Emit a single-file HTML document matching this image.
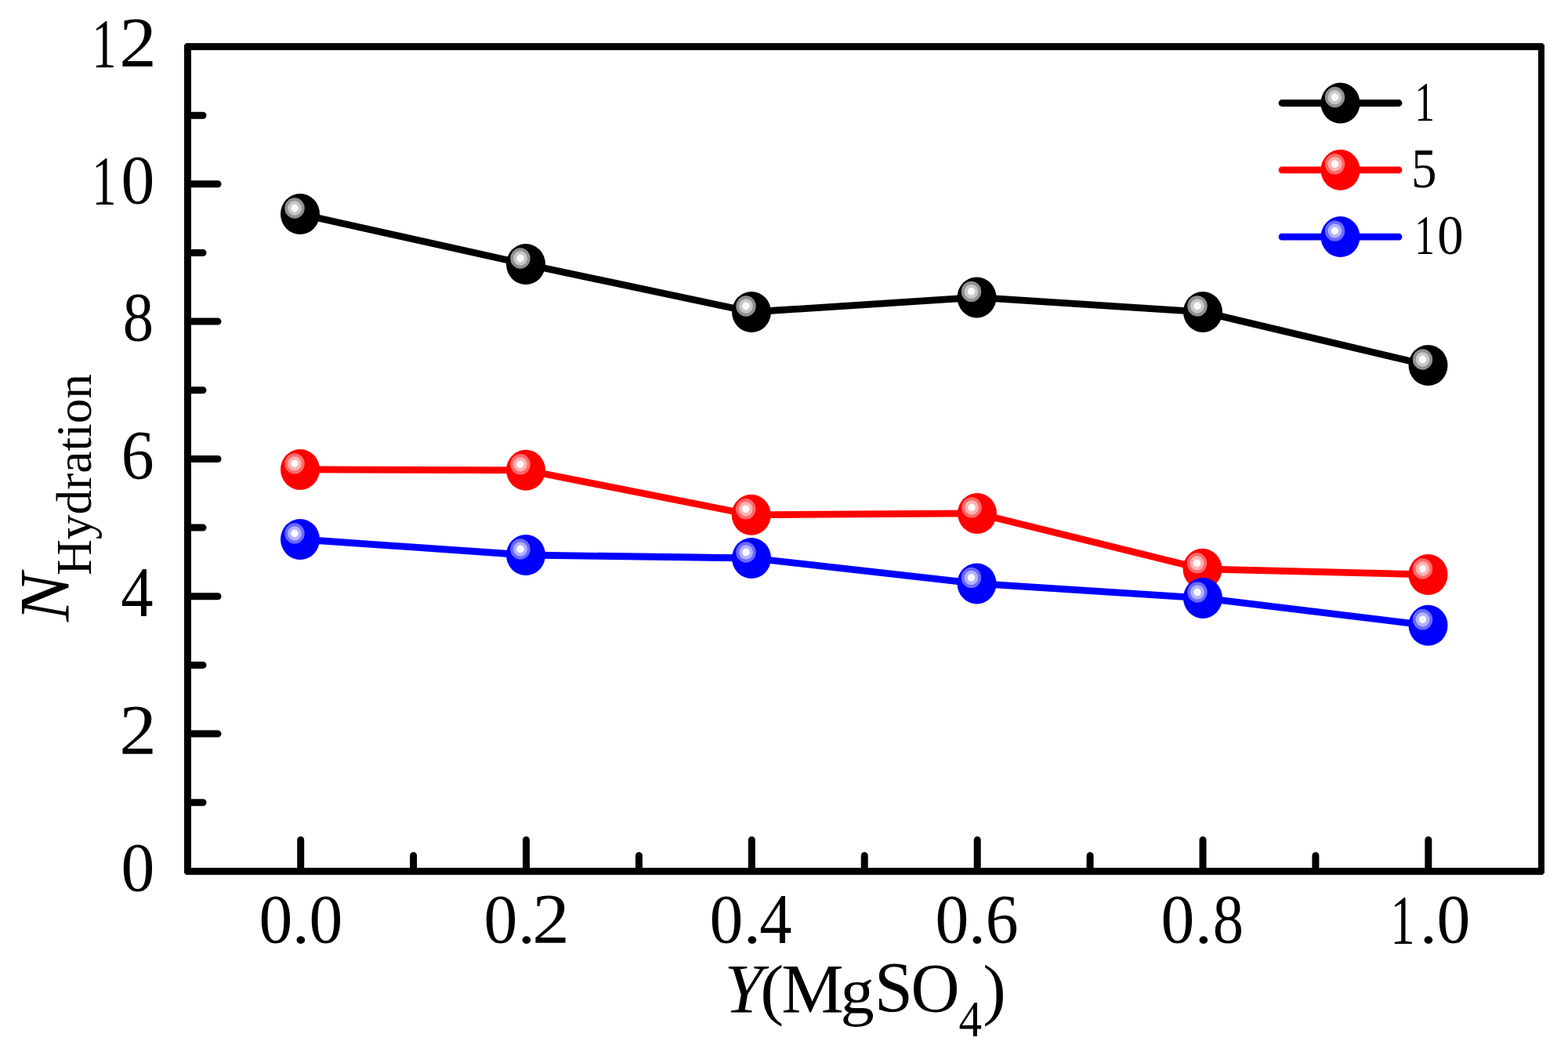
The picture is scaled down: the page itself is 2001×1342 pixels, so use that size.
<!DOCTYPE html>
<html><head><meta charset="utf-8"><title>N Hydration vs Y(MgSO4)</title>
<style>
html,body{margin:0;padding:0;background:#fff;overflow:hidden;width:2001px;height:1342px;}
svg{display:block;}
.t text{font-family:"Liberation Serif","Times New Roman",serif;font-size:100px;fill:#000;}
</style></head>
<body>
<svg width="2001" height="1342" viewBox="0 0 2001 1342">
<rect width="2001" height="1342" fill="#fff"/>
<path d="M237.5 55H1968.5L1971 57.5V1113.5L1968.5 1116H237.5L235 1113.5V57.5ZM244 64V1107H1963V64Z" fill="#000" fill-rule="evenodd"/>
<path d="M241 936.1H278M241 760.8H278M241 585.5H278M241 410.1H278M241 234.8H278M241 1023.7H259M241 848.4H259M241 673.1H259M241 497.8H259M241 322.5H259M241 147.2H259M383.7 1109V1071.5M671.5 1109V1071.5M959.3 1109V1071.5M1247.2 1109V1071.5M1535.0 1109V1071.5M1822.8 1109V1071.5M527.6 1109V1091.5M815.4 1109V1091.5M1103.2 1109V1091.5M1391.1 1109V1091.5M1678.9 1109V1091.5" stroke="#000" stroke-width="9" stroke-linecap="round" fill="none"/>
<path d="M383 273 L671 337 L959 398 L1246.5 379.4 L1535 397.9 L1822.5 466" stroke="#000" stroke-width="8.8" fill="none" stroke-linejoin="round"/>
<ellipse cx="383" cy="273" rx="25" ry="26" fill="#000"/><ellipse cx="376" cy="265.5" rx="12.7" ry="13.2" fill="#909090"/><ellipse cx="376" cy="265.5" rx="8.9" ry="9.2" fill="#c8c8c8"/><ellipse cx="376" cy="265.5" rx="4.7" ry="4.9" fill="#fafafa"/>
<ellipse cx="671" cy="337" rx="25" ry="26" fill="#000"/><ellipse cx="664" cy="329.5" rx="12.7" ry="13.2" fill="#909090"/><ellipse cx="664" cy="329.5" rx="8.9" ry="9.2" fill="#c8c8c8"/><ellipse cx="664" cy="329.5" rx="4.7" ry="4.9" fill="#fafafa"/>
<ellipse cx="959" cy="398" rx="25" ry="26" fill="#000"/><ellipse cx="952" cy="390.5" rx="12.7" ry="13.2" fill="#909090"/><ellipse cx="952" cy="390.5" rx="8.9" ry="9.2" fill="#c8c8c8"/><ellipse cx="952" cy="390.5" rx="4.7" ry="4.9" fill="#fafafa"/>
<ellipse cx="1246.5" cy="379.4" rx="25" ry="26" fill="#000"/><ellipse cx="1239.5" cy="371.9" rx="12.7" ry="13.2" fill="#909090"/><ellipse cx="1239.5" cy="371.9" rx="8.9" ry="9.2" fill="#c8c8c8"/><ellipse cx="1239.5" cy="371.9" rx="4.7" ry="4.9" fill="#fafafa"/>
<ellipse cx="1535" cy="397.9" rx="25" ry="26" fill="#000"/><ellipse cx="1528" cy="390.4" rx="12.7" ry="13.2" fill="#909090"/><ellipse cx="1528" cy="390.4" rx="8.9" ry="9.2" fill="#c8c8c8"/><ellipse cx="1528" cy="390.4" rx="4.7" ry="4.9" fill="#fafafa"/>
<ellipse cx="1822.5" cy="466" rx="25" ry="26" fill="#000"/><ellipse cx="1815.5" cy="458.5" rx="12.7" ry="13.2" fill="#909090"/><ellipse cx="1815.5" cy="458.5" rx="8.9" ry="9.2" fill="#c8c8c8"/><ellipse cx="1815.5" cy="458.5" rx="4.7" ry="4.9" fill="#fafafa"/>
<path d="M383 598.9 L671 599.8 L958.7 656.8 L1247 654.9 L1534.5 725.8 L1822.5 733" stroke="#f00" stroke-width="8.8" fill="none" stroke-linejoin="round"/>
<ellipse cx="383" cy="598.9" rx="25" ry="26" fill="#f00"/><ellipse cx="376" cy="591.4" rx="12.7" ry="13.2" fill="#ff6a6a"/><ellipse cx="376" cy="591.4" rx="8.9" ry="9.2" fill="#ffb2b2"/><ellipse cx="376" cy="591.4" rx="4.7" ry="4.9" fill="#fff8f8"/>
<ellipse cx="671" cy="599.8" rx="25" ry="26" fill="#f00"/><ellipse cx="664" cy="592.3" rx="12.7" ry="13.2" fill="#ff6a6a"/><ellipse cx="664" cy="592.3" rx="8.9" ry="9.2" fill="#ffb2b2"/><ellipse cx="664" cy="592.3" rx="4.7" ry="4.9" fill="#fff8f8"/>
<ellipse cx="958.7" cy="656.8" rx="25" ry="26" fill="#f00"/><ellipse cx="951.7" cy="649.3" rx="12.7" ry="13.2" fill="#ff6a6a"/><ellipse cx="951.7" cy="649.3" rx="8.9" ry="9.2" fill="#ffb2b2"/><ellipse cx="951.7" cy="649.3" rx="4.7" ry="4.9" fill="#fff8f8"/>
<ellipse cx="1247" cy="654.9" rx="25" ry="26" fill="#f00"/><ellipse cx="1240" cy="647.4" rx="12.7" ry="13.2" fill="#ff6a6a"/><ellipse cx="1240" cy="647.4" rx="8.9" ry="9.2" fill="#ffb2b2"/><ellipse cx="1240" cy="647.4" rx="4.7" ry="4.9" fill="#fff8f8"/>
<ellipse cx="1534.5" cy="725.8" rx="25" ry="26" fill="#f00"/><ellipse cx="1527.5" cy="718.3" rx="12.7" ry="13.2" fill="#ff6a6a"/><ellipse cx="1527.5" cy="718.3" rx="8.9" ry="9.2" fill="#ffb2b2"/><ellipse cx="1527.5" cy="718.3" rx="4.7" ry="4.9" fill="#fff8f8"/>
<ellipse cx="1822.5" cy="733" rx="25" ry="26" fill="#f00"/><ellipse cx="1815.5" cy="725.5" rx="12.7" ry="13.2" fill="#ff6a6a"/><ellipse cx="1815.5" cy="725.5" rx="8.9" ry="9.2" fill="#ffb2b2"/><ellipse cx="1815.5" cy="725.5" rx="4.7" ry="4.9" fill="#fff8f8"/>
<path d="M383 688 L671 708 L959 712 L1246.5 744.4 L1535 762.9 L1822.5 797.8" stroke="#00f" stroke-width="8.8" fill="none" stroke-linejoin="round"/>
<ellipse cx="383" cy="688" rx="25" ry="26" fill="#00f"/><ellipse cx="376" cy="680.5" rx="12.7" ry="13.2" fill="#6a6aff"/><ellipse cx="376" cy="680.5" rx="8.9" ry="9.2" fill="#b2b2ff"/><ellipse cx="376" cy="680.5" rx="4.7" ry="4.9" fill="#f8f8ff"/>
<ellipse cx="671" cy="708" rx="25" ry="26" fill="#00f"/><ellipse cx="664" cy="700.5" rx="12.7" ry="13.2" fill="#6a6aff"/><ellipse cx="664" cy="700.5" rx="8.9" ry="9.2" fill="#b2b2ff"/><ellipse cx="664" cy="700.5" rx="4.7" ry="4.9" fill="#f8f8ff"/>
<ellipse cx="959" cy="712" rx="25" ry="26" fill="#00f"/><ellipse cx="952" cy="704.5" rx="12.7" ry="13.2" fill="#6a6aff"/><ellipse cx="952" cy="704.5" rx="8.9" ry="9.2" fill="#b2b2ff"/><ellipse cx="952" cy="704.5" rx="4.7" ry="4.9" fill="#f8f8ff"/>
<ellipse cx="1246.5" cy="744.4" rx="25" ry="26" fill="#00f"/><ellipse cx="1239.5" cy="736.9" rx="12.7" ry="13.2" fill="#6a6aff"/><ellipse cx="1239.5" cy="736.9" rx="8.9" ry="9.2" fill="#b2b2ff"/><ellipse cx="1239.5" cy="736.9" rx="4.7" ry="4.9" fill="#f8f8ff"/>
<ellipse cx="1535" cy="762.9" rx="25" ry="26" fill="#00f"/><ellipse cx="1528" cy="755.4" rx="12.7" ry="13.2" fill="#6a6aff"/><ellipse cx="1528" cy="755.4" rx="8.9" ry="9.2" fill="#b2b2ff"/><ellipse cx="1528" cy="755.4" rx="4.7" ry="4.9" fill="#f8f8ff"/>
<ellipse cx="1822.5" cy="797.8" rx="25" ry="26" fill="#00f"/><ellipse cx="1815.5" cy="790.3" rx="12.7" ry="13.2" fill="#6a6aff"/><ellipse cx="1815.5" cy="790.3" rx="8.9" ry="9.2" fill="#b2b2ff"/><ellipse cx="1815.5" cy="790.3" rx="4.7" ry="4.9" fill="#f8f8ff"/>
<path d="M1636 131.5H1785" stroke="#000" stroke-width="8.8" stroke-linecap="round"/>
<ellipse cx="1710.5" cy="131.5" rx="25" ry="26" fill="#000"/><ellipse cx="1703.5" cy="124.0" rx="12.7" ry="13.2" fill="#909090"/><ellipse cx="1703.5" cy="124.0" rx="8.9" ry="9.2" fill="#c8c8c8"/><ellipse cx="1703.5" cy="124.0" rx="4.7" ry="4.9" fill="#fafafa"/>
<path d="M1636 216.8H1785" stroke="#f00" stroke-width="8.8" stroke-linecap="round"/>
<ellipse cx="1710.5" cy="216.8" rx="25" ry="26" fill="#f00"/><ellipse cx="1703.5" cy="209.3" rx="12.7" ry="13.2" fill="#ff6a6a"/><ellipse cx="1703.5" cy="209.3" rx="8.9" ry="9.2" fill="#ffb2b2"/><ellipse cx="1703.5" cy="209.3" rx="4.7" ry="4.9" fill="#fff8f8"/>
<path d="M1636 302.1H1785" stroke="#00f" stroke-width="8.8" stroke-linecap="round"/>
<ellipse cx="1710.5" cy="302.1" rx="25" ry="26" fill="#00f"/><ellipse cx="1703.5" cy="294.6" rx="12.7" ry="13.2" fill="#6a6aff"/><ellipse cx="1703.5" cy="294.6" rx="8.9" ry="9.2" fill="#b2b2ff"/><ellipse cx="1703.5" cy="294.6" rx="4.7" ry="4.9" fill="#f8f8ff"/>
<g class="t"><text><tspan x="154.57" y="1136.21" font-size="89.55" textLength="42.86" lengthAdjust="spacingAndGlyphs">0</tspan></text>
<text><tspan x="152.20" y="962.00" font-size="90.77" textLength="47.50" lengthAdjust="spacingAndGlyphs">2</tspan></text>
<text><tspan x="154.35" y="786.00" font-size="90.77" textLength="41.30" lengthAdjust="spacingAndGlyphs">4</tspan></text>
<text><tspan x="154.65" y="610.21" font-size="89.55" textLength="41.86" lengthAdjust="spacingAndGlyphs">6</tspan></text>
<text><tspan x="156.86" y="434.21" font-size="89.55" textLength="39.29" lengthAdjust="spacingAndGlyphs">8</tspan></text>
<text><tspan x="117.34" y="260.00" font-size="89.39" textLength="31.43" lengthAdjust="spacingAndGlyphs">1</tspan><tspan x="154.57" y="259.21" font-size="89.55" textLength="42.86" lengthAdjust="spacingAndGlyphs">0</tspan></text>
<text><tspan x="117.34" y="85.00" font-size="89.39" textLength="31.43" lengthAdjust="spacingAndGlyphs">1</tspan><tspan x="152.20" y="85.00" font-size="90.77" textLength="47.50" lengthAdjust="spacingAndGlyphs">2</tspan></text>
<text><tspan x="330.57" y="1202.21" font-size="89.55" textLength="42.86" lengthAdjust="spacingAndGlyphs">0</tspan><tspan x="372.64" y="1203.17" font-size="83.33" textLength="22.73" lengthAdjust="spacingAndGlyphs">.</tspan><tspan x="394.57" y="1202.21" font-size="89.55" textLength="42.86" lengthAdjust="spacingAndGlyphs">0</tspan></text>
<text><tspan x="617.57" y="1202.21" font-size="89.55" textLength="42.86" lengthAdjust="spacingAndGlyphs">0</tspan><tspan x="660.64" y="1203.17" font-size="83.33" textLength="22.73" lengthAdjust="spacingAndGlyphs">.</tspan><tspan x="679.20" y="1203.00" font-size="90.77" textLength="47.50" lengthAdjust="spacingAndGlyphs">2</tspan></text>
<text><tspan x="905.57" y="1202.21" font-size="89.55" textLength="42.86" lengthAdjust="spacingAndGlyphs">0</tspan><tspan x="948.64" y="1203.17" font-size="83.33" textLength="22.73" lengthAdjust="spacingAndGlyphs">.</tspan><tspan x="969.35" y="1203.00" font-size="90.77" textLength="41.30" lengthAdjust="spacingAndGlyphs">4</tspan></text>
<text><tspan x="1193.57" y="1202.21" font-size="89.55" textLength="42.86" lengthAdjust="spacingAndGlyphs">0</tspan><tspan x="1235.64" y="1203.17" font-size="83.33" textLength="22.73" lengthAdjust="spacingAndGlyphs">.</tspan><tspan x="1257.65" y="1202.21" font-size="89.55" textLength="41.86" lengthAdjust="spacingAndGlyphs">6</tspan></text>
<text><tspan x="1481.57" y="1202.21" font-size="89.55" textLength="42.86" lengthAdjust="spacingAndGlyphs">0</tspan><tspan x="1524.64" y="1203.17" font-size="83.33" textLength="22.73" lengthAdjust="spacingAndGlyphs">.</tspan><tspan x="1547.86" y="1202.21" font-size="89.55" textLength="39.29" lengthAdjust="spacingAndGlyphs">8</tspan></text>
<text><tspan x="1774.34" y="1203.00" font-size="89.39" textLength="31.43" lengthAdjust="spacingAndGlyphs">1</tspan><tspan x="1811.64" y="1203.17" font-size="83.33" textLength="22.73" lengthAdjust="spacingAndGlyphs">.</tspan><tspan x="1833.57" y="1202.21" font-size="89.55" textLength="42.86" lengthAdjust="spacingAndGlyphs">0</tspan></text>
<text><tspan x="1805.37" y="154.00" font-size="71.21" textLength="25.71" lengthAdjust="spacingAndGlyphs">1</tspan></text>
<text><tspan x="1801.10" y="239.29" font-size="71.21" textLength="32.50" lengthAdjust="spacingAndGlyphs">5</tspan></text>
<text><tspan x="1805.37" y="324.00" font-size="71.21" textLength="25.71" lengthAdjust="spacingAndGlyphs">1</tspan><tspan x="1834.33" y="323.57" font-size="71.64" textLength="33.33" lengthAdjust="spacingAndGlyphs">0</tspan></text>
<text><tspan x="924.61" y="1291.10" font-size="89.54" textLength="49.00" lengthAdjust="spacingAndGlyphs" font-style="italic">Y</tspan><tspan x="970.20" y="1290.83" font-size="87.00" textLength="29.97" lengthAdjust="spacingAndGlyphs">(</tspan><tspan x="997.22" y="1291.10" font-size="89.54" textLength="79.38" lengthAdjust="spacingAndGlyphs">M</tspan><tspan x="1072.55" y="1292.37" font-size="82.05" textLength="43.18" lengthAdjust="spacingAndGlyphs">g</tspan><tspan x="1116.05" y="1290.19" font-size="90.30" textLength="48.86" lengthAdjust="spacingAndGlyphs">S</tspan><tspan x="1162.46" y="1290.21" font-size="89.70" textLength="62.06" lengthAdjust="spacingAndGlyphs">O</tspan><tspan x="1223.62" y="1321.70" font-size="66.00" textLength="29.57" lengthAdjust="spacingAndGlyphs">4</tspan><tspan x="1254.23" y="1290.65" font-size="86.44" textLength="29.59" lengthAdjust="spacingAndGlyphs">)</tspan></text>
<text transform="rotate(-90)"><tspan x="-793.07" y="88.00" font-size="90.77" textLength="62.07" lengthAdjust="spacingAndGlyphs" font-style="italic">N</tspan><tspan x="-734.00" y="115.73" font-size="63.67" textLength="257.03" lengthAdjust="spacingAndGlyphs">Hydration</tspan></text></g>
</svg>
</body></html>
